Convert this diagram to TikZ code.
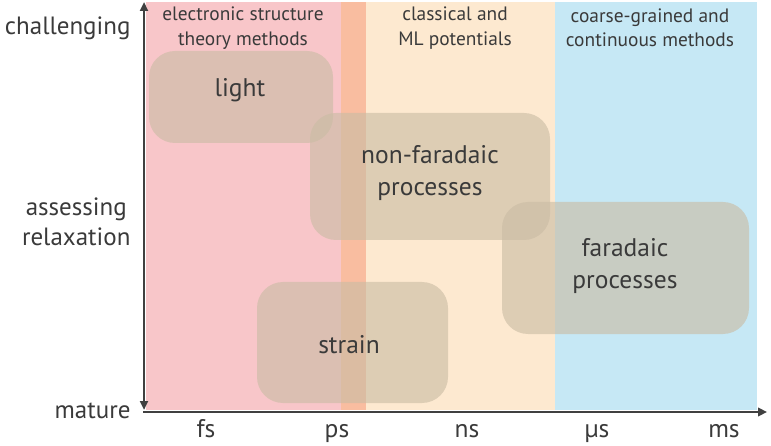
\documentclass[tikz,border=0pt]{standalone}
\usepackage{fontspec}
\setmainfont{PT Sans}
\usetikzlibrary{arrows.meta}
\definecolor{txt}{HTML}{3A3A3A}
\definecolor{axis}{HTML}{404040}
\definecolor{pinkbg}{HTML}{F8C6C9}
\definecolor{orangebg}{HTML}{F9BDA0}
\definecolor{peachbg}{HTML}{FDE9D0}
\definecolor{bluebg}{HTML}{C6E8F5}
\definecolor{boxfill}{RGB}{202,188,164}
\tikzset{
  blob/.style={fill=boxfill, fill opacity=0.62, draw=none, rounded corners=26pt},
  blobtext/.style={text=txt, font=\fontsize{25.5}{32}\selectfont, align=center},
  axlabel/.style={text=txt, font=\fontsize{25}{30}\selectfont, align=center},
  ticklabel/.style={text=txt, font=\fontsize{25.5}{28}\selectfont},
  regtitle/.style={text=txt, font=\fontsize{19.4}{24.5}\selectfont, align=center},
  axisline/.style={draw=axis, line width=2.4pt}
}
\begin{document}
\begin{tikzpicture}[x=1pt,y=-1pt]
\useasboundingbox (0,0) rectangle (771,446);
% background regions
\fill[pinkbg] (146,2) rectangle (341,410);
\fill[orangebg] (341,2) rectangle (366,410);
\fill[peachbg] (366,2) rectangle (555,410);
\fill[bluebg] (555,2) rectangle (757,410);
% region titles
\node[regtitle] (t1) at (243,28) {electronic structure\\theory methods};
\node[regtitle] (t2) at (455,28) {classical and\\ML potentials};
\node[regtitle] (t3) at (650,28) {coarse-grained and\\continuous methods};
% blobs
\fill[blob] (149,51) rectangle (333,143);
\fill[blob] (310,113) rectangle (550,240);
\fill[blob] (502,202) rectangle (749,334);
\fill[blob] (257,282) rectangle (448,403);
\node[blobtext] (light) at (240,90) {light};
\node[blobtext] (nonf) at (430,173) {non-faradaic\\processes};
\node[blobtext] (far) at (625,266) {faradaic\\processes};
\node[blobtext] (strain) at (349,345) {strain};
% axes
\coordinate (ytop) at (144,2);
\coordinate (ybot) at (144,410);
\coordinate (xorig) at (143,412);
\coordinate (xend) at (767,412);
\draw[axisline, {Triangle[length=9pt,width=8pt]}-{Triangle[length=9pt,width=8pt]}] (ytop) -- (ybot);
\draw[axisline, -{Triangle[length=9pt,width=8.5pt]}] (xorig) -- (xend);
% axis labels
\node[axlabel, anchor=east] (ch) at (134,28) {challenging};
\node[axlabel, anchor=east] (ar) at (134,222) {assessing\\relaxation};
\node[axlabel, anchor=base east] (ma) at (134,418) {mature};
\node[ticklabel, anchor=base] (fs) at (206,437) {fs};
\node[ticklabel, anchor=base] (ps) at (337,437) {ps};
\node[ticklabel, anchor=base] (ns) at (467,437) {ns};
\node[ticklabel, anchor=base] (us) at (597,437) {µs};
\node[ticklabel, anchor=base] (ms) at (724,437) {ms};
\end{tikzpicture}
\end{document}
